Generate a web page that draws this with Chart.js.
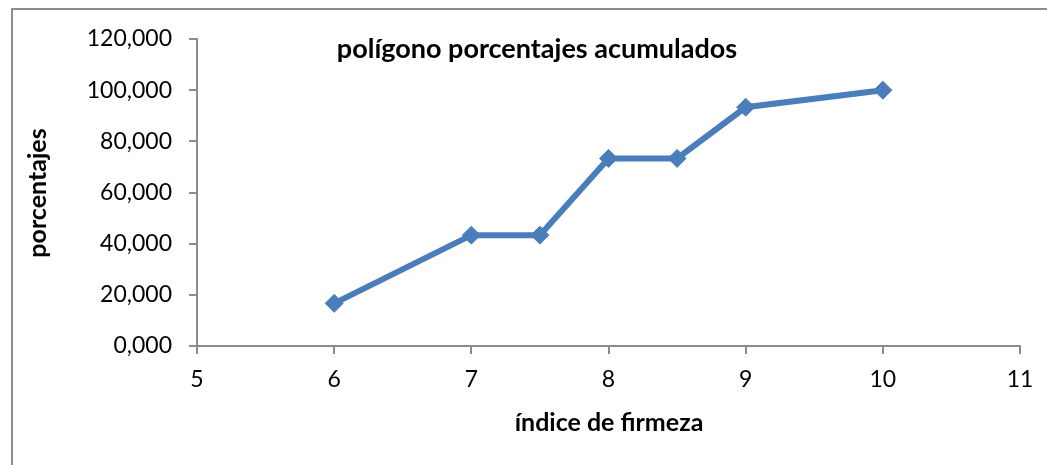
<!DOCTYPE html>
<html>
<head>
<meta charset="utf-8">
<script src="https://cdn.jsdelivr.net/npm/chart.js@4.4.0/dist/chart.umd.min.js"></script>
<style>
    html, body { margin: 0; padding: 0; background: #fff; }
    #wrap { position: relative; width: 1047px; height: 465px; }
</style>
</head>
<body>
<div id="wrap"><canvas id="polygonChart" width="1047" height="465"></canvas></div>
<script>
// index de firmeza (x) and cumulative percentages (y)
var indices = [6, 7, 7.5, 8, 8.5, 9, 10];
var porcentajes = [16.667, 43.333, 43.333, 73.333, 73.333, 93.333, 100];
var yTicks = [0, 20, 40, 60, 80, 100, 120];
var xTicks = [5, 6, 7, 8, 9, 10, 11];

var chartTitle = 'polígono porcentajes acumulados';
var xTitle = 'índice de firmeza';
var yTitle = 'porcentajes';

var FONT = 'Lato, "Open Sans", sans-serif';
var AXIS_GREY = '#8c8c8c';

// frame and text labels drawn at fixed spots like the Excel chart
var decorPlugin = {
    id: 'decor',
    beforeDraw: function (chart) {
        var ctx = chart.ctx;
        ctx.save();
        ctx.strokeStyle = '#8c8c8c';
        ctx.lineWidth = 2;
        ctx.beginPath();
        ctx.moveTo(12, 465);
        ctx.lineTo(12, 9);
        ctx.lineTo(1047, 9);
        ctx.stroke();
        ctx.restore();
    },
    afterDraw: function (chart) {
        var ctx = chart.ctx;
        ctx.save();
        ctx.fillStyle = '#000';
        ctx.textAlign = 'center';
        ctx.textBaseline = 'middle';
        ctx.font = 'bold 27px ' + FONT;
        ctx.fillText(chartTitle, 537, 49);
        ctx.font = 'bold 25px ' + FONT;
        ctx.fillText(xTitle, 609, 423);
        ctx.translate(38, 193);
        ctx.rotate(-Math.PI / 2);
        ctx.fillText(yTitle, 0, 0);
        ctx.restore();
    }
};

var points = indices.map(function (x, i) {
    return { x: x, y: porcentajes[i] };
});

var ctx = document.getElementById('polygonChart').getContext('2d');
var polygonChart = new Chart(ctx, {
    type: 'scatter',
    data: {
        datasets: [{
            label: chartTitle,
            data: points,
            showLine: true,
            borderColor: '#4a7ebb',
            backgroundColor: '#4a7ebb',
            borderWidth: 6,
            pointStyle: 'rectRot',
            pointRadius: 9,
            pointBorderWidth: 1,
            pointBackgroundColor: '#4a7ebb',
            pointBorderColor: '#4a7ebb',
            tension: 0
        }]
    },
    options: {
        responsive: false,
        animation: false,
        layout: {
            padding: { left: 0, top: 39, right: 27, bottom: 0 }
        },
        plugins: {
            legend: { display: false },
            tooltip: { enabled: false }
        },
        scales: {
            x: {
                type: 'linear',
                min: 5,
                max: 11,
                afterBuildTicks: function (scale) {
                    scale.ticks = xTicks.map(function (v) { return { value: v }; });
                },
                afterFit: function (scale) { scale.height = 119; },
                grid: {
                    drawOnChartArea: false,
                    drawTicks: true,
                    tickLength: 8,
                    color: AXIS_GREY,
                    lineWidth: 2
                },
                border: { color: AXIS_GREY, width: 2 },
                ticks: {
                    color: '#000',
                    padding: 12,
                    font: { family: FONT, size: 23 }
                }
            },
            y: {
                min: 0,
                max: 120,
                afterBuildTicks: function (scale) {
                    scale.ticks = yTicks.map(function (v) { return { value: v }; });
                },
                afterFit: function (scale) { scale.width = 197; },
                grid: {
                    drawOnChartArea: false,
                    drawTicks: true,
                    tickLength: 8,
                    color: AXIS_GREY,
                    lineWidth: 2
                },
                border: { color: AXIS_GREY, width: 2 },
                ticks: {
                    color: '#000',
                    padding: 17,
                    font: { family: FONT, size: 23 },
                    callback: function (value) {
                        return value.toFixed(3).replace('.', ',');
                    }
                }
            }
        }
    },
    plugins: [decorPlugin]
});
</script>
</body>
</html>
